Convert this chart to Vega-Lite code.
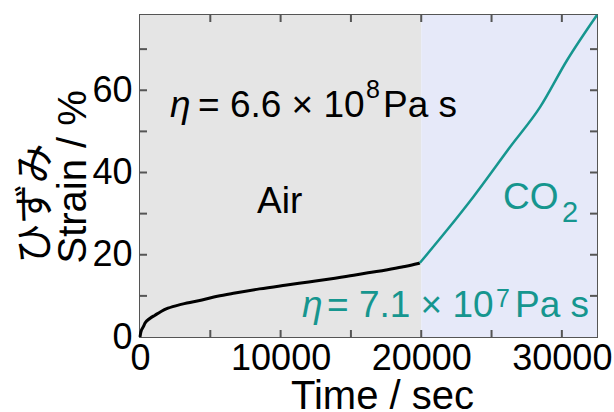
{
  "$schema": "https://vega.github.io/schema/vega-lite/v6.json",
  "width": 457,
  "height": 322,
  "autosize": {"type": "none"},
  "padding": {"left": 140, "top": 15, "right": 17, "bottom": 75},
  "background": "white",
  "config": {
    "font": "Liberation Sans",
    "view": {"stroke": "#555555", "strokeWidth": 2},
    "axis": {
      "grid": false,
      "domain": false,
      "ticks": false,
      "labelFont": "Liberation Sans",
      "labelFontSize": 36,
      "labelColor": "black",
      "labelFlush": false,
      "labelOverlap": false,
      "titleFont": "Liberation Sans, Noto Sans CJK JP",
      "titleFontSize": 40,
      "titleFontWeight": "normal",
      "titleColor": "black"
    }
  },
  "datasets": {
    "regions": [
      {"start": 0, "end": 20000, "phase": "Air"},
      {"start": 20000, "end": 32500, "phase": "CO2"}
    ],
    "xticks": [{"v": 5000}, {"v": 10000}, {"v": 15000}, {"v": 20000}, {"v": 25000}, {"v": 30000}],
    "yticks": [{"v": 10}, {"v": 20}, {"v": 30}, {"v": 40}, {"v": 50}, {"v": 60}, {"v": 70}],
    "air": [
      {"t": 0, "s": 0}, {"t": 60, "s": 1.2}, {"t": 240, "s": 2.5}, {"t": 360, "s": 3.4},
      {"t": 700, "s": 4.5}, {"t": 1067, "s": 5.3}, {"t": 1500, "s": 6.2}, {"t": 1990, "s": 7.0},
      {"t": 3000, "s": 8.0}, {"t": 4410, "s": 9.0}, {"t": 5500, "s": 9.9}, {"t": 6757, "s": 10.7},
      {"t": 8500, "s": 11.7}, {"t": 10313, "s": 12.6}, {"t": 12000, "s": 13.4}, {"t": 13870, "s": 14.3},
      {"t": 15200, "s": 15.0}, {"t": 16216, "s": 15.6}, {"t": 17500, "s": 16.3}, {"t": 18634, "s": 17.0},
      {"t": 19700, "s": 17.8}, {"t": 19900, "s": 18.0}
    ],
    "co2": [
      {"t": 19900, "s": 18.0}, {"t": 21835, "s": 26.0}, {"t": 23685, "s": 34.0}, {"t": 26316, "s": 46.2},
      {"t": 28450, "s": 55.9}, {"t": 30370, "s": 67.3}, {"t": 32500, "s": 78.3}
    ],
    "blackMain": [
      {"t": 4124, "s": 53.5, "label": "= 6.6 × 10"},
      {"t": 17280, "s": 53.5, "label": "Pa s"},
      {"t": 8320, "s": 30.1, "label": "Air"}
    ],
    "blackEta": [{"t": 2133, "s": 53.5, "label": "η"}],
    "blackSup": [{"t": 16070, "s": 58.1, "label": "8"}],
    "tealMain": [
      {"t": 13300, "s": 4.9, "label": "= 7.1 × 10"},
      {"t": 26670, "s": 4.9, "label": "Pa s"},
      {"t": 25815, "s": 31.1, "label": "CO"}
    ],
    "tealEta": [{"t": 11520, "s": 4.9, "label": "η"}],
    "tealSup": [{"t": 25320, "s": 7.3, "label": "7"}],
    "tealSub": [{"t": 30010, "s": 27.95, "label": "2"}]
  },
  "layer": [
    {
      "data": {"name": "regions"},
      "mark": {"type": "rect"},
      "encoding": {
        "x": {"field": "start", "type": "quantitative", "scale": {"domain": [0, 32500], "nice": false, "zero": false},
          "axis": {"orient": "bottom", "values": [0, 10000, 20000, 30000], "format": "d", "labelPadding": 4,
            "title": "Time / sec", "titleX": 242, "titleY": 71, "titleBaseline": "alphabetic"}},
        "x2": {"field": "end"},
        "y": {"datum": 0, "type": "quantitative", "scale": {"domain": [0, 78.3], "nice": false, "zero": false},
          "axis": {"orient": "left", "values": [0, 20, 40, 60], "format": "d", "labelPadding": 8,
            "title": ["ひずみ", "Strain / %"], "titleAngle": -90, "titleAlign": "left", "titleBaseline": "alphabetic",
            "titleX": -93, "titleY": 248, "titleLineHeight": 38}},
        "y2": {"datum": 78.3},
        "color": {"field": "phase", "type": "nominal", "scale": {"domain": ["Air", "CO2"], "range": ["#e5e5e5", "#e6e9f9"]}, "legend": null}
      }
    },
    {
      "data": {"name": "xticks"},
      "mark": {"type": "tick", "orient": "vertical", "size": 14, "thickness": 2, "color": "#555555", "opacity": 1, "clip": true},
      "encoding": {
        "x": {"field": "v", "type": "quantitative", "axis": null},
        "y": {"datum": 0, "type": "quantitative", "axis": null}
      }
    },
    {
      "data": {"name": "xticks"},
      "mark": {"type": "tick", "orient": "vertical", "size": 14, "thickness": 2, "color": "#555555", "opacity": 1, "clip": true},
      "encoding": {
        "x": {"field": "v", "type": "quantitative", "axis": null},
        "y": {"datum": 78.3, "type": "quantitative", "axis": null}
      }
    },
    {
      "data": {"name": "yticks"},
      "mark": {"type": "tick", "orient": "horizontal", "size": 14, "thickness": 2, "color": "#555555", "opacity": 1, "clip": true},
      "encoding": {
        "y": {"field": "v", "type": "quantitative", "axis": null},
        "x": {"datum": 0, "type": "quantitative", "axis": null}
      }
    },
    {
      "data": {"name": "yticks"},
      "mark": {"type": "tick", "orient": "horizontal", "size": 14, "thickness": 2, "color": "#555555", "opacity": 1, "clip": true},
      "encoding": {
        "y": {"field": "v", "type": "quantitative", "axis": null},
        "x": {"datum": 32500, "type": "quantitative", "axis": null}
      }
    },
    {
      "data": {"name": "air"},
      "mark": {"type": "line", "color": "black", "strokeWidth": 3, "interpolate": "monotone"},
      "encoding": {
        "x": {"field": "t", "type": "quantitative", "axis": null},
        "y": {"field": "s", "type": "quantitative", "axis": null}
      }
    },
    {
      "data": {"name": "co2"},
      "mark": {"type": "line", "color": "#16968f", "strokeWidth": 2.5, "interpolate": "monotone"},
      "encoding": {
        "x": {"field": "t", "type": "quantitative", "axis": null},
        "y": {"field": "s", "type": "quantitative", "axis": null}
      }
    },
    {
      "data": {"name": "blackMain"},
      "mark": {"type": "text", "align": "left", "baseline": "alphabetic", "fontSize": 37, "color": "black"},
      "encoding": {"x": {"field": "t", "type": "quantitative", "axis": null}, "y": {"field": "s", "type": "quantitative", "axis": null}, "text": {"field": "label"}}
    },
    {
      "data": {"name": "blackEta"},
      "mark": {"type": "text", "align": "left", "baseline": "alphabetic", "fontSize": 37, "fontStyle": "italic", "color": "black"},
      "encoding": {"x": {"field": "t", "type": "quantitative", "axis": null}, "y": {"field": "s", "type": "quantitative", "axis": null}, "text": {"field": "label"}}
    },
    {
      "data": {"name": "blackSup"},
      "mark": {"type": "text", "align": "left", "baseline": "alphabetic", "fontSize": 25, "color": "black"},
      "encoding": {"x": {"field": "t", "type": "quantitative", "axis": null}, "y": {"field": "s", "type": "quantitative", "axis": null}, "text": {"field": "label"}}
    },
    {
      "data": {"name": "tealMain"},
      "mark": {"type": "text", "align": "left", "baseline": "alphabetic", "fontSize": 37, "color": "#16968f"},
      "encoding": {"x": {"field": "t", "type": "quantitative", "axis": null}, "y": {"field": "s", "type": "quantitative", "axis": null}, "text": {"field": "label"}}
    },
    {
      "data": {"name": "tealEta"},
      "mark": {"type": "text", "align": "left", "baseline": "alphabetic", "fontSize": 37, "fontStyle": "italic", "color": "#16968f"},
      "encoding": {"x": {"field": "t", "type": "quantitative", "axis": null}, "y": {"field": "s", "type": "quantitative", "axis": null}, "text": {"field": "label"}}
    },
    {
      "data": {"name": "tealSup"},
      "mark": {"type": "text", "align": "left", "baseline": "alphabetic", "fontSize": 25, "color": "#16968f"},
      "encoding": {"x": {"field": "t", "type": "quantitative", "axis": null}, "y": {"field": "s", "type": "quantitative", "axis": null}, "text": {"field": "label"}}
    },
    {
      "data": {"name": "tealSub"},
      "mark": {"type": "text", "align": "left", "baseline": "alphabetic", "fontSize": 29, "color": "#16968f"},
      "encoding": {"x": {"field": "t", "type": "quantitative", "axis": null}, "y": {"field": "s", "type": "quantitative", "axis": null}, "text": {"field": "label"}}
    }
  ],
  "resolve": {"axis": {"x": "independent", "y": "independent"}}
}
